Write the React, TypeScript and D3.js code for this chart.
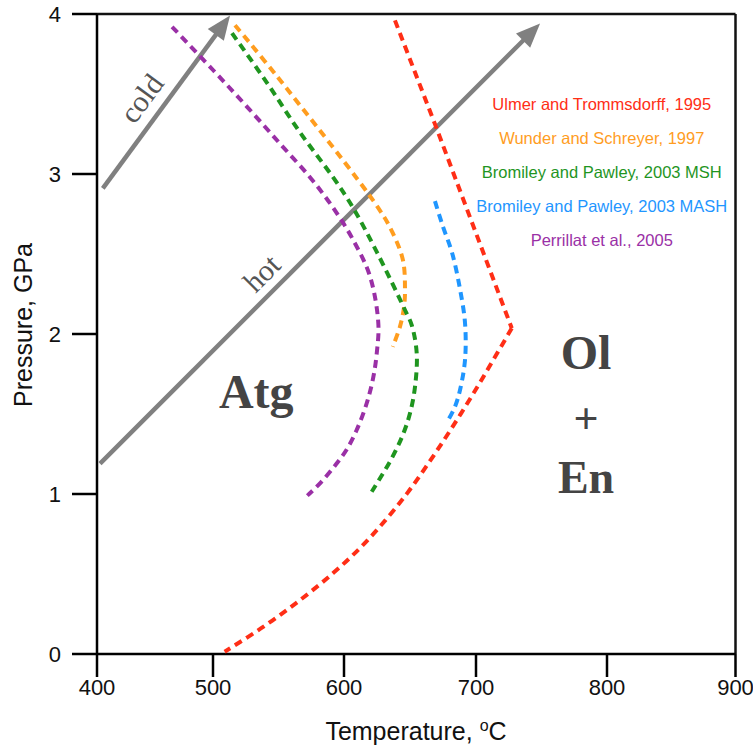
import React from 'react';
import * as d3 from 'd3';

type Pt = [number, number];

const xTicks = [400, 500, 600, 700, 800, 900];
const yTicks = [0, 1, 2, 3, 4];

// Ulmer and Trommsdorff, 1995 (two branches meeting at a sharp tip)
const ulmerUpper: Pt[] = [[638.6, 3.96], [669, 3.31], [727.3, 2.036]];
const ulmerLower: Pt[] = [[727.3, 2.036], [713.2, 1.838], [701.1, 1.67], [688.7, 1.504], [675.8, 1.338], [662.2, 1.171], [647.8, 1.004], [631.6, 0.838], [613.2, 0.671], [591.5, 0.504], [566.6, 0.338], [538.6, 0.171], [508.9, 0.014]];
// Wunder and Schreyer, 1997
const wunder: Pt[] = [[516.8, 3.93], [548.9, 3.61], [625.8, 2.79], [637, 2.63], [644.7, 2.46], [646.2, 2.28], [645.5, 2.17], [642.4, 2.046], [636.9, 1.92]];
// Bromiley and Pawley, 2003 MSH
const bromileyMSH: Pt[] = [[514.5, 3.88], [541.2, 3.57], [566.4, 3.26], [591.6, 2.98], [606.8, 2.79], [625, 2.51], [646.2, 2.15], [651.3, 2.056], [655.1, 1.879], [653.8, 1.67], [650, 1.504], [644, 1.358], [635.5, 1.213], [628, 1.108], [621, 1.014]];
// Bromiley and Pawley, 2003 MASH
const bromileyMASH: Pt[] = [[668.9, 2.83], [675, 2.67], [681.8, 2.51], [687.9, 2.28], [691.7, 2.067], [691.7, 1.84], [687.9, 1.65], [684.1, 1.546], [679, 1.463]];
// Perrillat et al., 2005
const perrillat: Pt[] = [[464.7, 3.92], [500, 3.65], [526, 3.42], [551.1, 3.19], [574, 2.98], [591.6, 2.79], [606.8, 2.59], [619.7, 2.36], [626, 2.067], [624.8, 1.879], [622.2, 1.73], [617.2, 1.567], [609.6, 1.4], [601.8, 1.275], [593.1, 1.177], [582.4, 1.073], [572, 0.99]];

const coldArrow: Pt[] = [[405, 2.91], [513, 3.99]];
const hotArrow: Pt[] = [[402.6, 1.19], [748.9, 3.94]];

const legendLabels = [
  'Ulmer and Trommsdorff, 1995',
  'Wunder and Schreyer, 1997',
  'Bromiley and Pawley, 2003 MSH',
  'Bromiley and Pawley, 2003 MASH',
  'Perrillat et al., 2005',
];
const legendColors = ['#ff2e16', '#ff9d1f', '#1f951f', '#1f96ff', '#9a30a6'];

const W = 753;
const H = 746;

// piecewise-linear temperature axis as drawn in the original figure
const x = d3.scaleLinear().domain(xTicks).range([97, 213, 344, 476, 607, 735.5]);
const y = d3.scaleLinear().domain([0, 4]).range([654, 14]);

const smooth = d3.line<Pt>().x(d => x(d[0])).y(d => y(d[1])).curve(d3.curveCatmullRom.alpha(0.5));
const straight = d3.line<Pt>().x(d => x(d[0])).y(d => y(d[1]));

const sans = '"Liberation Sans", Arial, Helvetica, sans-serif';
const serif = '"Liberation Serif", "Times New Roman", serif';

function Arrow({ pts, label, labelOffset }: { pts: Pt[]; label: string; labelOffset: [number, number] }) {
  const x0 = x(pts[0][0]), y0 = y(pts[0][1]);
  const x1 = x(pts[1][0]), y1 = y(pts[1][1]);
  const dx = x1 - x0, dy = y1 - y0;
  const len = Math.hypot(dx, dy);
  const ux = dx / len, uy = dy / len;
  const headL = 24, headW = 10;
  const bx = x1 - ux * headL, by = y1 - uy * headL;
  const px = -uy, py = ux;
  const head = `M${x1},${y1}L${bx + px * headW},${by + py * headW}L${bx - px * headW},${by - py * headW}Z`;
  const ang = (Math.atan2(dy, dx) * 180) / Math.PI;
  const t = labelOffset[0];
  const lx = x0 + dx * t + px * labelOffset[1];
  const ly = y0 + dy * t + py * labelOffset[1];
  return (
    <g>
      <line x1={x0} y1={y0} x2={x1 - ux * (headL - 4)} y2={y1 - uy * (headL - 4)} stroke="#808080" strokeWidth={4.5} />
      <path d={head} fill="#808080" />
      <text x={lx} y={ly} transform={`rotate(${ang},${lx},${ly})`} textAnchor="middle" fontFamily={serif} fontSize={30} fill="#555">
        {label}
      </text>
    </g>
  );
}

export default function App() {
  const dash = '8 5.5';
  const curveProps = { fill: 'none', strokeWidth: 4, strokeDasharray: dash };
  return (
    <svg width={W} height={H} style={{ position: 'absolute', left: 0, top: 0, background: '#fff' }}>
      {/* frame */}
      <line x1={x(400)} y1={y(4)} x2={x(900)} y2={y(4)} stroke="#111" strokeWidth={2.5} />
      <line x1={x(900)} y1={y(4)} x2={x(900)} y2={y(0)} stroke="#111" strokeWidth={2.5} />
      {/* axes */}
      <line x1={x(400)} y1={y(0)} x2={x(900)} y2={y(0)} stroke="#000" strokeWidth={2.5} />
      <line x1={x(400)} y1={y(0)} x2={x(400)} y2={y(4)} stroke="#000" strokeWidth={2.5} />
      {xTicks.map(t => (
        <g key={'x' + t}>
          <line x1={x(t)} x2={x(t)} y1={y(0)} y2={y(0) + 23} stroke="#000" strokeWidth={2.5} />
          <text x={x(t)} y={y(0) + 41} textAnchor="middle" fontFamily={sans} fontSize={22} fill="#111">{t}</text>
        </g>
      ))}
      {yTicks.map(t => (
        <g key={'y' + t}>
          <line x1={x(400) - 25} x2={x(400)} y1={y(t)} y2={y(t)} stroke="#000" strokeWidth={2.5} />
          <text x={x(400) - 36} y={y(t) + 8} textAnchor="end" fontFamily={sans} fontSize={22} fill="#111">{t}</text>
        </g>
      ))}
      <text x={416} y={740} textAnchor="middle" fontFamily={sans} fontSize={25} fill="#111">
        Temperature, <tspan fontSize={16} dy={-9}>o</tspan><tspan dy={9}>C</tspan>
      </text>
      <text transform={`translate(32,325) rotate(-90)`} textAnchor="middle" fontFamily={sans} fontSize={25} fill="#111">
        Pressure, GPa
      </text>

      {/* arrows */}
      <Arrow pts={coldArrow} label="cold" labelOffset={[0.445, -12]} />
      <Arrow pts={hotArrow} label="hot" labelOffset={[0.4, -10]} />

      {/* reaction curves */}
      <path d={straight(ulmerUpper) ?? ''} stroke={legendColors[0]} {...curveProps} />
      <path d={smooth(ulmerLower) ?? ''} stroke={legendColors[0]} {...curveProps} />
      <path d={smooth(wunder) ?? ''} stroke={legendColors[1]} {...curveProps} />
      <path d={smooth(bromileyMSH) ?? ''} stroke={legendColors[2]} {...curveProps} />
      <path d={smooth(bromileyMASH) ?? ''} stroke={legendColors[3]} {...curveProps} />
      <path d={smooth(perrillat) ?? ''} stroke={legendColors[4]} {...curveProps} />

      {/* legend */}
      {legendLabels.map((l, i) => (
        <text key={l} x={x(796)} y={y(3.44) + i * 34 + 6} textAnchor="middle" fontFamily={sans} fontSize={16.5} fill={legendColors[i]}>
          {l}
        </text>
      ))}

      {/* field labels */}
      <text x={x(533)} y={y(1.54)} textAnchor="middle" fontFamily={serif} fontWeight="bold" fontSize={48} fill="#444">Atg</text>
      <text x={x(784)} y={y(1.78)} textAnchor="middle" fontFamily={serif} fontWeight="bold" fontSize={48} fill="#444">Ol</text>
      <text x={x(784)} y={y(1.38)} textAnchor="middle" fontFamily={serif} fontWeight="bold" fontSize={44} fill="#444">+</text>
      <text x={x(784)} y={y(1.006)} textAnchor="middle" fontFamily={serif} fontWeight="bold" fontSize={46} fill="#444">En</text>
    </svg>
  );
}
